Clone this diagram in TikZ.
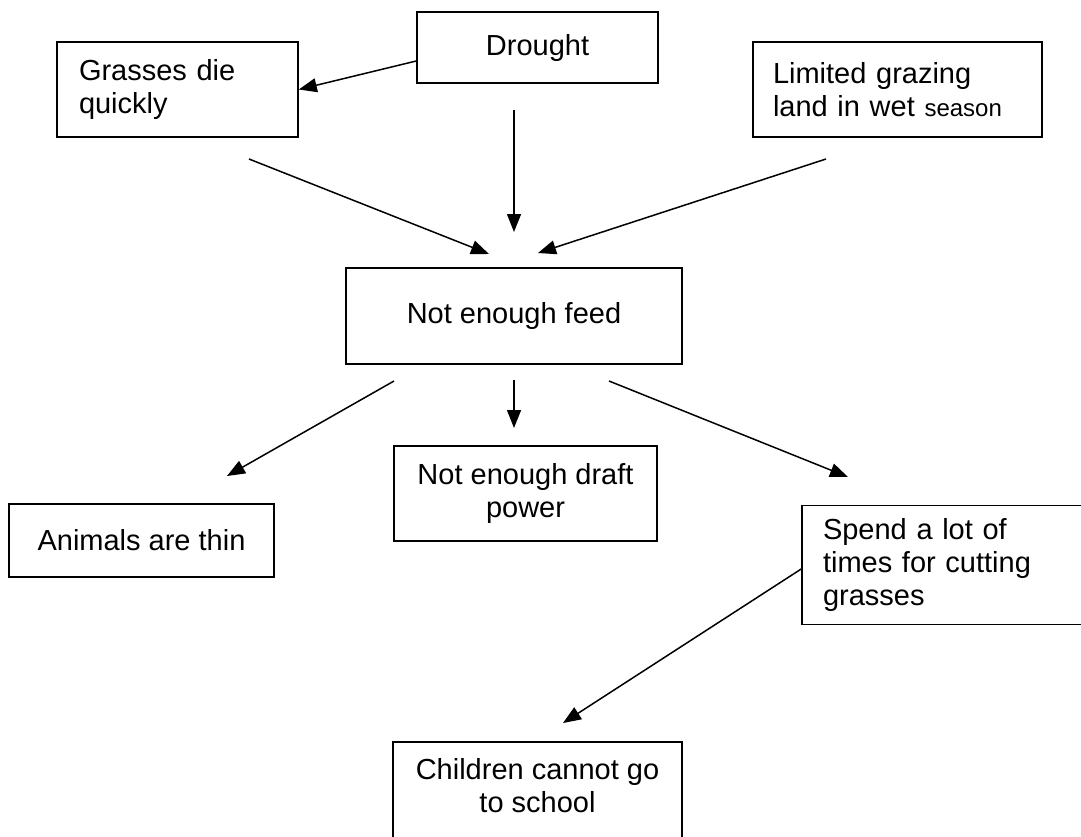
\documentclass[tikz,border=0pt]{standalone}
\usepackage{fontspec}
\setmainfont{Liberation Sans}
\usetikzlibrary{arrows.meta}
\tikzset{
  box/.style={draw=black, line width=1.6pt, inner sep=0pt, font=\fontsize{29}{33}\selectfont},
  arr/.style={line width=1.5pt, -{Triangle[length=18pt,width=14pt]}},
}
\begin{document}
\begin{tikzpicture}[x=1pt,y=-1pt]
\fill[white] (0,0) rectangle (1081,836);
\clip (0,0) rectangle (1081,836);
\useasboundingbox (0,0) rectangle (1081,836);
% boxes
\node[box, minimum width=241, minimum height=71] (drought) at (537.5,47.5) {Drought};
\node[box, minimum width=241, minimum height=95, text width=197, align=left] (grasses) at (177.5,89.5) {Grasses die\\quickly};
\node[box, minimum width=289, minimum height=95, text width=249, align=left] (limited) at (897.5,89.5) {Limited grazing\\land in wet {\fontsize{24}{33}\selectfont season}};
\node[box, minimum width=336, minimum height=96] (feed) at (514,316) {Not enough feed};
\node[box, minimum width=265, minimum height=73] (animals) at (141.5,540.5) {Animals are thin};
\node[box, minimum width=263, minimum height=95, align=center] (draft) at (525.5,493.5) {Not enough draft\\power};
\node[box, minimum width=281, minimum height=119, text width=239, align=left] (spend) at (942.5,565) {Spend a lot of\\times for cutting\\grasses};
\node[box, minimum width=289, minimum height=100,
  label={[align=center, font=\fontsize{29}{33}\selectfont, yshift=6pt]center:Children cannot go\\to school}] (children) at (537.5,792) {};
% free arrow ends
\coordinate (g1) at (249,159);
\coordinate (f1) at (489,254);
\coordinate (d1) at (514,110);
\coordinate (f2) at (514,232);
\coordinate (l1) at (826,159);
\coordinate (f3) at (538,253);
\coordinate (fa) at (394,381);
\coordinate (a1) at (227,476);
\coordinate (fd) at (514,380);
\coordinate (dr1) at (514,428);
\coordinate (fs) at (609,381);
\coordinate (s1) at (848,477);
\coordinate (c1) at (563,723);
% connectors
\draw[arr] ([yshift=-13.5pt]drought.west) -- (grasses.east);
\draw[arr] (g1) -- (f1);
\draw[arr] (d1) -- (f2);
\draw[arr] (l1) -- (f3);
\draw[arr] (fa) -- (a1);
\draw[arr] (fd) -- (dr1);
\draw[arr] (fs) -- (s1);
\draw[arr] ([yshift=-4pt]spend.west) -- (c1);
\end{tikzpicture}
\end{document}
